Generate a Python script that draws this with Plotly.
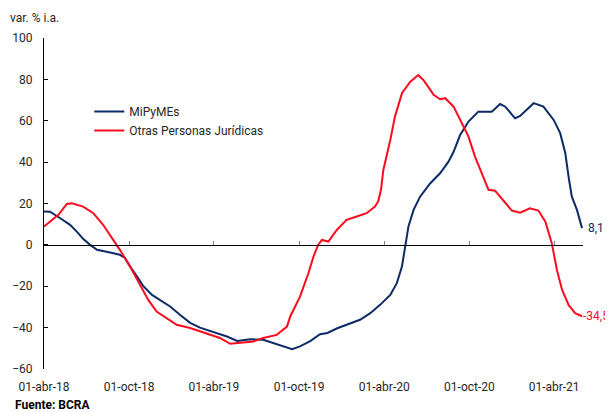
import plotly.graph_objects as go

# MiPyMEs series
mipymes_dates = ["2018-04-01","2018-04-14","2018-05-05","2018-05-27","2018-06-11","2018-06-24","2018-07-09","2018-07-24","2018-08-21","2018-09-11","2018-09-22","2018-10-03","2018-10-18","2018-10-31","2018-11-19","2018-12-06","2018-12-28","2019-01-18","2019-02-09","2019-03-02","2019-03-30","2019-04-29","2019-05-21","2019-06-18","2019-07-16","2019-08-06","2019-08-28","2019-09-16","2019-10-03","2019-10-25","2019-11-15","2019-12-01","2019-12-22","2020-01-19","2020-02-09","2020-03-02","2020-03-23","2020-04-14","2020-04-28","2020-05-09","2020-05-16","2020-05-23","2020-06-03","2020-06-17","2020-06-28","2020-07-09","2020-07-30","2020-08-17","2020-08-28","2020-09-11","2020-09-29","2020-10-20","2020-11-18","2020-12-06","2020-12-17","2021-01-07","2021-01-18","2021-02-16","2021-03-09","2021-03-31","2021-04-14","2021-04-25","2021-05-02","2021-05-09","2021-05-20","2021-05-31"]
mipymes_values = [16.1,16.0,13.0,9.7,6.3,2.9,0.0,-2.4,-3.7,-4.8,-6.3,-10.5,-15.3,-19.8,-24.2,-26.6,-29.8,-33.8,-37.7,-40.0,-41.9,-44.3,-46.4,-45.6,-45.9,-47.3,-48.8,-50.4,-49.1,-46.5,-43.2,-42.6,-40.3,-37.8,-36.2,-33.0,-29.0,-24.2,-18.5,-10.5,0.0,8.9,16.9,23.3,26.6,29.8,34.6,40.2,45.0,53.1,59.6,64.4,64.4,68.1,66.8,61.2,62.3,68.5,66.8,60.4,54.0,44.3,33.0,23.3,16.9,8.1]

# Otras Personas Jurídicas series
otras_dates = ["2018-04-01","2018-04-14","2018-05-02","2018-05-20","2018-05-31","2018-06-24","2018-07-16","2018-08-06","2018-08-28","2018-09-11","2018-10-03","2018-10-24","2018-11-11","2018-11-29","2018-12-21","2019-01-11","2019-02-09","2019-03-17","2019-04-14","2019-05-06","2019-05-27","2019-06-25","2019-07-16","2019-08-14","2019-09-05","2019-09-12","2019-10-03","2019-10-21","2019-11-01","2019-11-11","2019-11-19","2019-12-03","2019-12-21","2020-01-11","2020-02-02","2020-02-23","2020-03-12","2020-03-19","2020-03-25","2020-03-30","2020-04-14","2020-04-24","2020-05-09","2020-05-27","2020-06-13","2020-06-24","2020-07-09","2020-07-16","2020-07-30","2020-08-10","2020-08-28","2020-09-11","2020-09-29","2020-10-13","2020-10-28","2020-11-11","2020-11-25","2020-12-17","2020-12-31","2021-01-18","2021-02-08","2021-02-26","2021-03-13","2021-03-27","2021-04-07","2021-04-18","2021-05-02","2021-05-16","2021-05-31"]
otras_values = [8.9,11.3,14.5,19.8,20.1,18.5,15.3,9.7,2.4,-2.4,-10.5,-19.3,-26.6,-32.2,-35.4,-38.6,-40.2,-42.7,-45.0,-47.8,-47.2,-46.7,-45.0,-43.5,-39.5,-34.6,-25.0,-13.7,-5.6,0.0,2.4,1.6,7.2,12.1,13.7,15.3,18.5,21.0,26.6,36.2,50.7,62.0,73.3,78.9,82.1,79.7,74.9,72.5,70.4,70.9,66.8,60.4,52.3,42.7,34.6,26.6,26.2,20.1,16.6,15.6,17.7,16.6,11.3,0.8,-12.1,-21.7,-29.0,-33.0,-34.5]

tick_vals = ["2018-04-01","2018-10-01","2019-04-01","2019-10-01","2020-04-01","2020-10-01","2021-04-01"]
tick_text = ["01-abr-18","01-oct-18","01-abr-19","01-oct-19","01-abr-20","01-oct-20","01-abr-21"]
y_ticks = [-60,-40,-20,0,20,40,60,80,100]

NAVY = "#0B2A66"
RED = "#FF0A1E"
TXT = "#262626"
x_range = ["2018-04-01","2021-06-02"]

W, H = 605, 404  # page adds an 8px body margin

fig = go.Figure()
fig.add_trace(go.Scatter(x=mipymes_dates, y=mipymes_values, mode="lines",
                         name="MiPyMEs", line=dict(color=NAVY, width=2), xaxis="x"))
fig.add_trace(go.Scatter(x=otras_dates, y=otras_values, mode="lines",
                         name="Otras Personas Jurídicas", line=dict(color=RED, width=2), xaxis="x2"))

fig.add_annotation(x=mipymes_dates[-1], y=mipymes_values[-1], text="8,1",
                   xanchor="left", yanchor="middle", xshift=4, showarrow=False,
                   font=dict(color=NAVY, size=12))
fig.add_annotation(x=otras_dates[-1], y=otras_values[-1], xref="x2", text="-34,5",
                   xanchor="left", yanchor="middle", xshift=-1, showarrow=False,
                   font=dict(color=RED, size=12))
fig.add_annotation(xref="paper", yref="paper", x=-0.058, y=-0.11, text="<b>Fuente: BCRA</b>",
                   xanchor="left", yanchor="middle", showarrow=False,
                   font=dict(color="#000000", size=12))

fig.update_layout(
    width=W, height=H,
    margin=dict(l=36, r=30, t=30, b=43, autoexpand=False),
    paper_bgcolor="white", plot_bgcolor="white",
    font=dict(family="Roboto, Arial, sans-serif", size=12, color=TXT),
    title=dict(text="var. % i.a.", x=2/W, xref="container", xanchor="left",
               y=1 - 10/H, yref="container", yanchor="middle",
               font=dict(size=12, color=TXT)),
    showlegend=True,
    legend=dict(x=0.084, y=0.822, xanchor="left", yanchor="top", bgcolor="rgba(0,0,0,0)",
                font=dict(size=12, color=TXT), itemwidth=30, tracegroupgap=0),
    xaxis=dict(type="date", range=x_range, tickvals=tick_vals, ticktext=tick_text,
               showgrid=False, zeroline=False, showline=False, ticks="",
               ticklabelstandoff=9, tickfont=dict(size=12, color=TXT)),
    xaxis2=dict(type="date", matches="x", overlaying="x", anchor="free", position=60/160,
                side="bottom", showgrid=False, zeroline=False, showline=True,
                linecolor="#000000", linewidth=1, ticks="inside", ticklen=4,
                tickcolor="#7f7f7f", tickwidth=1, tickvals=tick_vals, showticklabels=False),
    yaxis=dict(range=[-60, 100], tickvals=y_ticks, showgrid=False, zeroline=False,
               showline=True, linecolor="#000000", linewidth=1, ticks="inside",
               ticklen=4, tickcolor="#000000", ticklabelstandoff=8,
               tickfont=dict(size=12, color=TXT)),
)

fig.write_html("out.html")
